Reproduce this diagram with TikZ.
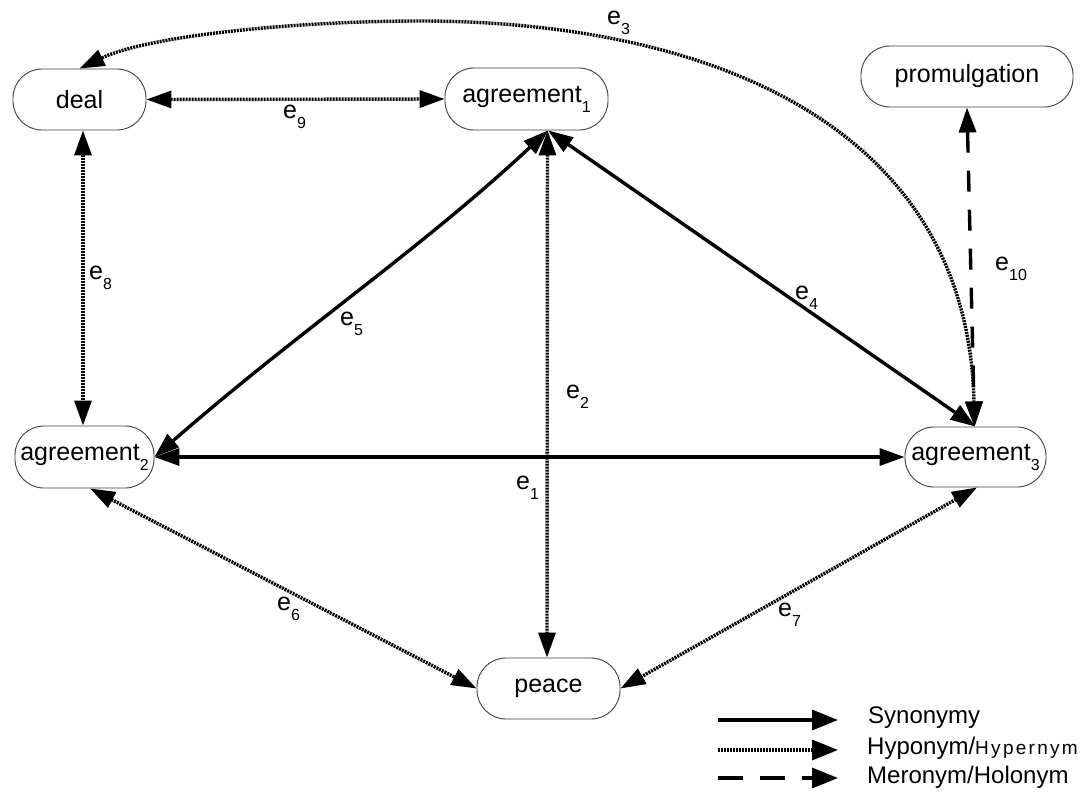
\documentclass[tikz,border=0pt]{standalone}
\usepackage{fontspec}
\setmainfont{Liberation Sans}
\usetikzlibrary{arrows.meta}
\newcommand\lsub[1]{\raisebox{-10pt}{\fontsize{16}{18}\selectfont #1}}
\begin{document}
\begin{tikzpicture}[x=1pt,y=-1pt,
  box/.style={draw=black!75, line width=0.9pt, rounded corners=29pt, inner sep=0pt,
              font=\fontsize{25}{28}\selectfont},
  syn/.style={line width=3.4pt, {Triangle[length=25pt,width=17pt]}-{Triangle[length=25pt,width=17pt]}},
  hyp/.style={line width=3.4pt, dash pattern=on 2pt off 1pt,
              {Triangle[length=25pt,width=17pt]}-{Triangle[length=25pt,width=17pt]}},
  mer/.style={line width=3.4pt, dash pattern=on 21pt off 18pt,
              {Triangle[length=25pt,width=17pt]}-{Triangle[length=25pt,width=17pt]}},
  lab/.style={anchor=base west, inner sep=0pt, font=\fontsize{25}{28}\selectfont},
  legtext/.style={anchor=base west, inner sep=0pt, font=\fontsize{24}{28}\selectfont}]
\useasboundingbox (0,0) rectangle (1088,792);
\fill[white] (0,0) rectangle (1088,792);

% nodes
\node[box, minimum width=133pt, minimum height=61pt] (deal) at (79.5,99.5) {deal};
\node[box, minimum width=163pt, minimum height=62pt] (a1) at (526.5,99) {agreement\lsub{1}};
\node[box, minimum width=212pt, minimum height=61pt] (prom) at (967,76.5) {promulgation};
\node[box, minimum width=139pt, minimum height=62pt] (a2) at (84.5,457) {agreement\lsub{2}};
\node[box, minimum width=141pt, minimum height=60pt] (a3) at (975.5,457) {agreement\lsub{3}};
\node[box, minimum width=143pt, minimum height=61pt] (peace) at (548.5,688.5) {peace};

% connectors
\draw[hyp] (deal.east) -- (a1.west);
\draw[hyp] ([xshift=3.5pt]deal.south) -- ([xshift=-1.5pt]a2.north);
\draw[syn] ([xshift=21.5pt]a1.south) .. controls (420,250) and (300,330) .. (a2.east);
\draw[hyp] ([xshift=21pt]a1.south) -- ([xshift=-1.5pt]peace.north);
\draw[syn] ([xshift=21.5pt]a1.south) -- (a3.north);
\draw[syn] (a2.east) -- (a3.west);
\draw[hyp] ([xshift=5.5pt]a2.south) -- (peace.west);
\draw[hyp] ([xshift=1.5pt]a3.south) -- (peace.east);
\draw[mer] (prom.south) -- ([xshift=-1pt]a3.north);
\draw[hyp] ([xshift=-1pt]a3.north) .. controls (968,120) and (700,21) .. (420,21)
           .. controls (300,21) and (150,35) .. (deal.north);

% edge labels
\node[lab] (l9) at (283,118) {e\lsub{9}};
\node[lab] (l3) at (607,25) {e\lsub{3}};
\node[lab] (l8) at (89,279) {e\lsub{8}};
\node[lab] (l5) at (340,325) {e\lsub{5}};
\node[lab] (l2) at (566,398) {e\lsub{2}};
\node[lab] (l1) at (516,489) {e\lsub{1}};
\node[lab] (l4) at (795,299) {e\lsub{4}};
\node[lab] (l10) at (995,270) {e\lsub{10}};
\node[lab] (l6) at (277,610) {e\lsub{6}};
\node[lab] (l7) at (778,616) {e\lsub{7}};

% legend
\coordinate (s1) at (718,720);
\coordinate (s2) at (838,720);
\coordinate (h1) at (718,750);
\coordinate (h2) at (838,750);
\coordinate (m1) at (718,778);
\coordinate (m2) at (838,778);
\draw[line width=3.4pt, -{Triangle[length=26pt,width=20pt]}] (s1) -- (s2);
\draw[line width=3.4pt, dash pattern=on 2pt off 1pt, -{Triangle[length=26pt,width=20pt]}] (h1) -- (h2);
\draw[line width=3.4pt, dash pattern=on 25pt off 17pt, -{Triangle[length=26pt,width=20pt]}] (m1) -- (m2);
\node[legtext] (t1) at (868,723) {Synonymy};
\node[legtext] (t2) at (867,754) {Hyponym/{\fontsize{19}{20}\selectfont\addfontfeature{LetterSpace=12}Hypernym}};
\node[legtext] (t3) at (867,783) {Meronym/Holonym};
\end{tikzpicture}
\end{document}
